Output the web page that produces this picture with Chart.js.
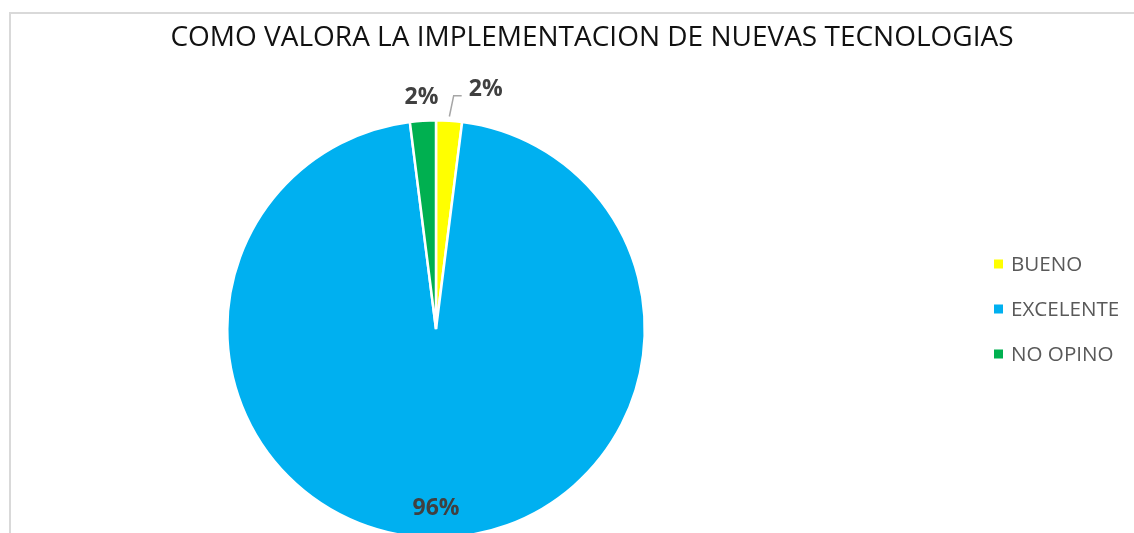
<!DOCTYPE html>
<html>
<head>
<meta charset="utf-8">
<script src="https://cdn.jsdelivr.net/npm/chart.js@4/dist/chart.umd.min.js"></script>
<style>
  html, body { margin: 0; padding: 0; background: #fff; overflow: hidden; width: 1134px; height: 533px; }
  #wrap { position: relative; width: 1134px; height: 560px; }
  #frame { position: absolute; left: 9px; top: 12px; width: 1200px; height: 600px;
           border-top: 2px solid #d9d9d9; border-left: 2px solid #d9d9d9; box-sizing: border-box; }
  canvas { position: absolute; left: 0; top: 0; }
</style>
</head>
<body>
<div id="wrap">
  <div id="frame"></div>
  <canvas id="c" width="1134" height="560"></canvas>
</div>
<script>
const chartTitle = 'COMO VALORA LA IMPLEMENTACION DE NUEVAS TECNOLOGIAS';
const categories = ['BUENO', 'EXCELENTE', 'NO OPINO'];
const values = [2, 96, 2];
const valueLabels = ['2%', '96%', '2%'];
const colors = ['#FFFF00', '#00B0F0', '#00B050'];

const titlePlugin = {
  id: 'customTitle',
  afterDraw(chart) {
    const ctx = chart.ctx;
    ctx.save();
    ctx.font = '28px "Open Sans"';
    ctx.fillStyle = '#111111';
    ctx.textAlign = 'center';
    ctx.textBaseline = 'middle';
    ctx.fillText(chartTitle, 592, 38);
    ctx.restore();
  }
};

const legendPlugin = {
  id: 'customLegend',
  afterDraw(chart) {
    const ctx = chart.ctx;
    const ds = chart.data.datasets[0];
    ctx.save();
    ctx.font = '20.6px "Open Sans"';
    ctx.textBaseline = 'middle';
    ctx.textAlign = 'left';
    chart.data.labels.forEach((lab, i) => {
      const y = 264 + i * 45;
      ctx.fillStyle = ds.backgroundColor[i];
      ctx.fillRect(994, y - 4.5, 9, 9);
      ctx.fillStyle = '#595959';
      ctx.fillText(lab, 1011, y + 1);
    });
    ctx.restore();
  }
};

const dataLabelPlugin = {
  id: 'pieLabels',
  afterDatasetsDraw(chart) {
    const ctx = chart.ctx;
    const meta = chart.getDatasetMeta(0);
    ctx.save();
    ctx.font = 'bold 23px "Open Sans"';
    ctx.fillStyle = '#404040';
    ctx.textAlign = 'center';
    ctx.textBaseline = 'middle';
    meta.data.forEach((arc, i) => {
      const p = arc.getProps(['x', 'y', 'startAngle', 'endAngle', 'outerRadius'], true);
      const mid = (p.startAngle + p.endAngle) / 2;
      const frac = values[i] / values.reduce((a, b) => a + b, 0);
      if (frac > 0.5) {
        const r = p.outerRadius * 0.86;
        ctx.fillText(valueLabels[i], p.x + r * Math.cos(mid), p.y + r * Math.sin(mid));
      } else if (i === 0) {
        // label moved aside with a leader line
        const r0 = p.outerRadius * 1.02;
        const r1 = p.outerRadius * 1.12;
        const x0 = p.x + r0 * Math.cos(mid), y0 = p.y + r0 * Math.sin(mid);
        const x1 = p.x + r1 * Math.cos(mid) + 3, y1 = p.y + r1 * Math.sin(mid);
        ctx.save();
        ctx.strokeStyle = '#a6a6a6';
        ctx.lineWidth = 1.5;
        ctx.beginPath();
        ctx.moveTo(x0, y0);
        ctx.lineTo(x1, y1);
        ctx.lineTo(x1 + 8, y1);
        ctx.stroke();
        ctx.restore();
        ctx.fillText(valueLabels[i], x1 + 32, y1 - 6);
      } else {
        const r = p.outerRadius * 1.11;
        ctx.fillText(valueLabels[i], p.x + r * Math.cos(mid), p.y + r * Math.sin(mid));
      }
    });
    ctx.restore();
  }
};

new Chart(document.getElementById('c'), {
  type: 'pie',
  data: {
    labels: categories,
    datasets: [{
      data: values,
      backgroundColor: colors,
      borderColor: '#ffffff',
      borderWidth: 2.5
    }]
  },
  options: {
    responsive: false,
    devicePixelRatio: 1,
    animation: false,
    layout: { padding: { left: 9, right: 271, top: 119, bottom: 21 } },
    plugins: {
      legend: { display: false },
      title: { display: false },
      tooltip: { enabled: false }
    }
  },
  plugins: [dataLabelPlugin, titlePlugin, legendPlugin]
});
</script>
</body>
</html>
